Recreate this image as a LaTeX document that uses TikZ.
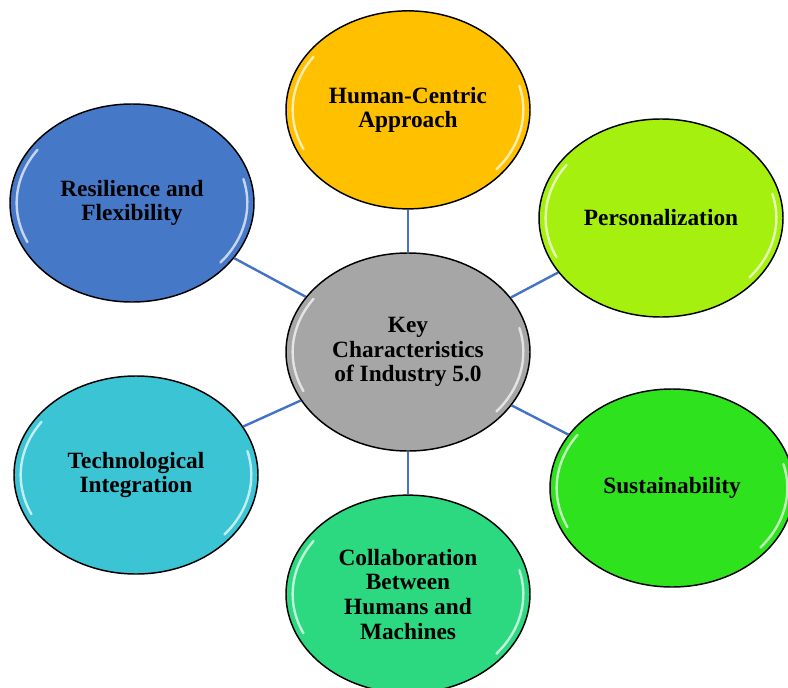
\documentclass[tikz,border=0pt]{standalone}
\usepackage{fontspec}
\setmainfont{Liberation Serif}
\usetikzlibrary{positioning,shapes.geometric}

\definecolor{linkblue}{RGB}{68,114,196}
\definecolor{keygray}{RGB}{166,166,166}
\definecolor{humanorange}{RGB}{255,192,0}
\definecolor{personlime}{RGB}{166,240,16}
\definecolor{resilblue}{RGB}{70,120,200}
\definecolor{techcyan}{RGB}{58,196,212}
\definecolor{sustgreen}{RGB}{46,226,30}
\definecolor{collabgreen}{RGB}{44,216,128}

\begin{document}
\begin{tikzpicture}[x=0.75pt, y=-0.75pt, node distance=32pt,
    bubble/.style={ellipse, draw=black, line width=1.1pt, inner sep=0pt,
        minimum width=183pt, minimum height=148.5pt, align=center,
        font=\bfseries\fontsize{17.5}{18.5}\selectfont,
        path picture={
            \draw[white, line width=1.8pt, opacity=0.7, line cap=round]
                (path picture bounding box.center) ++(145:86.5pt and 69.5pt)
                arc[start angle=145, end angle=205, x radius=86.5pt, y radius=69.5pt];
            \draw[white, line width=1.8pt, opacity=0.7, line cap=round]
                (path picture bounding box.center) ++(-40:86.5pt and 69.5pt)
                arc[start angle=-40, end angle=15, x radius=86.5pt, y radius=69.5pt];
        }},
    link/.style={draw=linkblue, line width=1.8pt}]
    \useasboundingbox (0,0) rectangle (788,688);

    \node[bubble, fill=keygray] (key) at (408,352) {Key\\Characteristics\\of Industry 5.0};

    \node[bubble, fill=humanorange, above=of key] (human) {Human-Centric\\Approach};
    \node[bubble, fill=collabgreen, below=of key] (collab) {Collaboration\\Between\\Humans and\\Machines};
    \node[bubble, fill=resilblue] (resil) at (132,203) {Resilience and\\Flexibility};
    \node[bubble, fill=personlime] (person) at (661,218) {Personalization};
    \node[bubble, fill=techcyan] (tech) at (136,475) {Technological\\Integration};
    \node[bubble, fill=sustgreen] (sust) at (672,488) {Sustainability};

    \draw[link] (key) -- (human);
    \draw[link] (key) -- (collab);
    \draw[link] (key) -- (resil);
    \draw[link] (key) -- (person);
    \draw[link] (key) -- (tech);
    \draw[link] (key) -- (sust);
\end{tikzpicture}
\end{document}
